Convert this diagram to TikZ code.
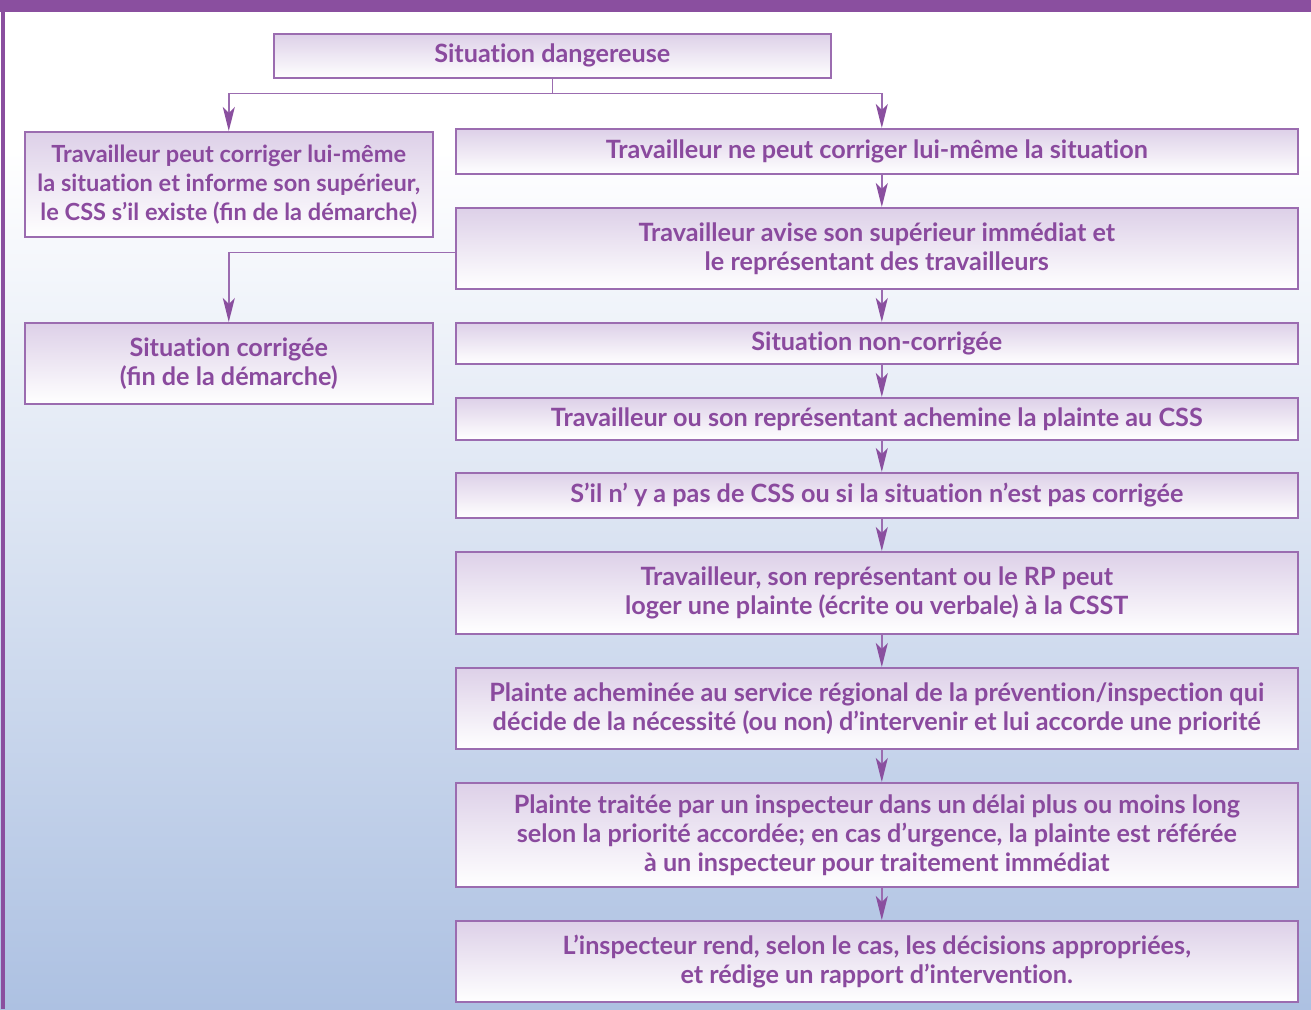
\documentclass[tikz,border=0pt]{standalone}
\usepackage{fontspec}
\setmainfont{Lato}[Ligatures=NoCommon]
\usetikzlibrary{arrows.meta}
\definecolor{txtpurple}{HTML}{8A4A9E}
\definecolor{bandpurple}{HTML}{8A4F9F}
\definecolor{linepurple}{HTML}{9B6CB0}
\definecolor{boxtop}{HTML}{DDD0E8}
\definecolor{bgblue}{HTML}{ADC1E2}
\tikzset{
  box/.style={draw=linepurple, line width=1.6pt, top color=boxtop, bottom color=white,
    anchor=north west, inner sep=0pt, align=center, text=txtpurple,
    font=\fontsize{25.2}{29}\selectfont\bfseries},
  lbox/.style={box, font=\fontsize{23.6}{29}\selectfont\bfseries},
  conn/.style={draw=linepurple, line width=1.6pt},
  arr/.style={conn, -{Stealth[length=24pt,width=12pt,inset=6pt,color=bandpurple]}},
}
\begin{document}
\begin{tikzpicture}[x=1pt,y=-1pt]
\useasboundingbox (0,0) rectangle (1311,1009);
\fill[white] (0,0) rectangle (1311,150);
\shade[top color=white, bottom color=bgblue] (0,150) rectangle (1311,1009);
\fill[bandpurple] (0,0) rectangle (1311,12);
\fill[bandpurple] (1,0) rectangle (4.5,1009);

\node[box, minimum width=557pt, minimum height=44pt] (dang) at (273,33) {Situation dangereuse};
\node[lbox, minimum width=408pt, minimum height=105pt] (lb1) at (24,131) {Travailleur peut corriger lui-même\\la situation et informe son supérieur,\\le CSS s’il existe (ﬁn de la démarche)};
\node[box, minimum width=408pt, minimum height=81pt] (lb2) at (24,322) {Situation corrigée\\(ﬁn de la démarche)};

\node[box, minimum width=842pt, minimum height=45pt] (r1) at (455,128) {Travailleur ne peut corriger lui-même la situation};
\node[box, minimum width=842pt, minimum height=81pt] (r2) at (455,207) {Travailleur avise son supérieur immédiat et\\le représentant des travailleurs};
\node[box, minimum width=842pt, minimum height=41pt] (r3) at (455,322) {Situation non-corrigée};
\node[box, minimum width=842pt, minimum height=42pt] (r4) at (455,397) {Travailleur ou son représentant achemine la plainte au CSS};
\node[box, minimum width=842pt, minimum height=45pt] (r5) at (455,472) {S’il n’ y a pas de CSS ou si la situation n’est pas corrigée};
\node[box, minimum width=842pt, minimum height=82pt] (r6) at (455,551) {Travailleur, son représentant ou le RP peut\\loger une plainte (écrite ou verbale) à la CSST};
\node[box, minimum width=842pt, minimum height=81pt] (r7) at (455,667) {Plainte acheminée au service régional de la prévention/inspection qui\\décide de la nécessité (ou non) d’intervenir et lui accorde une priorité};
\node[box, minimum width=842pt, minimum height=104pt] (r8) at (455,782) {Plainte traitée par un inspecteur dans un délai plus ou moins long\\selon la priorité accordée; en cas d’urgence, la plainte est référée\\à un inspecteur pour traitement immédiat};
\node[box, minimum width=842pt, minimum height=81pt] (r9) at (455,920) {L’inspecteur rend, selon le cas, les décisions appropriées,\\et rédige un rapport d’intervention.};

\draw[conn] (dang.south) -- ++(0,15) coordinate (j);
\draw[arr] (j) -| (lb1.north);
\draw[arr] (j) -| ([xshift=5pt]r1.north);
\draw[arr] ([yshift=-4pt]r2.west) -| (lb2.north);
\foreach \a/\b in {r1/r2,r2/r3,r3/r4,r4/r5,r5/r6,r6/r7,r7/r8,r8/r9}
  \draw[arr] ([xshift=5pt]\a.south) -- ([xshift=5pt]\b.north);
\end{tikzpicture}
\end{document}
